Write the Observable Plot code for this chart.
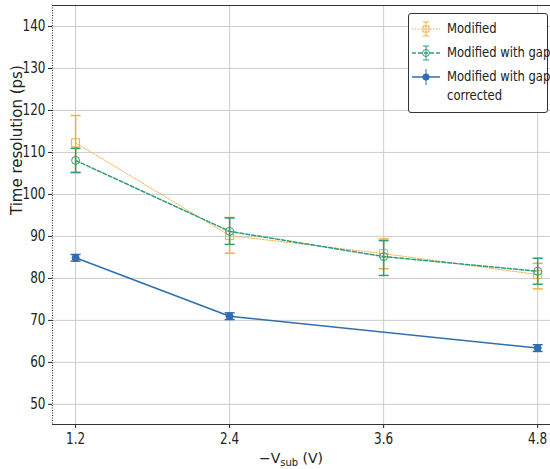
<!DOCTYPE html>
<html><head><meta charset="utf-8">
<script src="https://cdn.jsdelivr.net/npm/d3@7"></script>
<script src="https://cdn.jsdelivr.net/npm/@observablehq/plot@0.6"></script>
<style>
body{margin:0;background:#fff;font-family:"DejaVu Sans",sans-serif;}
#wrap{position:relative;width:550px;height:469px;}
#legend{position:absolute;left:408px;top:13px;width:140px;height:100px;border:1px solid #333;border-radius:3px;background:#fff;font-size:14.5px;color:#222;box-sizing:border-box;white-space:nowrap;}
.row{position:absolute;left:2px;display:flex;align-items:center;}
.row span{margin-left:6px;line-height:19px;display:inline-block;transform:scaleX(0.8);transform-origin:left center;}
</style></head><body>
<div id="wrap"><div id="chart"></div>
<div id="legend">
 <div class="row" style="top:5px"><svg width="30" height="18"><line x1="1" y1="9" x2="29" y2="9" stroke="#F0B040" stroke-dasharray="1.5,1.5"/><line x1="15" y1="2" x2="15" y2="16" stroke="#F0B040"/><line x1="12" y1="2" x2="18" y2="2" stroke="#F0B040"/><line x1="12" y1="16" x2="18" y2="16" stroke="#F0B040"/><rect x="12" y="6" width="6" height="6" fill="none" stroke="#F0B040"/></svg><span>Modified</span></div>
 <div class="row" style="top:29px"><svg width="30" height="18"><line x1="1" y1="9" x2="29" y2="9" stroke="#2E9E7A" stroke-width="1.5" stroke-dasharray="4,2"/><line x1="15" y1="2" x2="15" y2="16" stroke="#2E9E7A"/><line x1="12" y1="2" x2="18" y2="2" stroke="#2E9E7A"/><line x1="12" y1="16" x2="18" y2="16" stroke="#2E9E7A"/><circle cx="15" cy="9" r="3.5" fill="none" stroke="#2E9E7A"/></svg><span>Modified with gap</span></div>
 <div class="row" style="top:53px"><svg width="30" height="18" style="margin-top:-18px"><line x1="1" y1="9" x2="29" y2="9" stroke="#2F6EB0" stroke-width="1.5"/><line x1="15" y1="1" x2="15" y2="17" stroke="#2F6EB0"/><circle cx="15" cy="9" r="3.5" fill="#2F6EB0"/></svg><span>Modified with gap<br>corrected</span></div>
</div>
</div>
<script>
const voltages = [1.2, 2.4, 3.6, 4.8];
const modified = [112.3, 90.2, 85.9, 80.9];
const modifiedLo = [105.3, 86.0, 82.3, 77.5];
const modifiedHi = [118.8, 94.5, 89.4, 83.6];
const gap = [108.1, 91.2, 85.2, 81.7];
const gapLo = [105.2, 88.1, 80.7, 78.6];
const gapHi = [111.0, 94.4, 89.0, 84.8];
const correctedV = [1.2, 2.4, 4.8];
const corrected = [84.9, 71.0, 63.4];
const correctedLo = [84.1, 70.2, 62.6];
const correctedHi = [85.7, 71.8, 64.2];
const yTicks = [50, 60, 70, 80, 90, 100, 110, 120, 130, 140];
const xTicks = [1.2, 2.4, 3.6, 4.8];

const cOr = "#F0B040", cGr = "#2E9E7A", cBl = "#2F6EB0";
const mk = (xs, ys, lo, hi) => xs.map((x, i) => ({x, y: ys[i], lo: lo[i], hi: hi[i]}));
const dMod = mk(voltages, modified, modifiedLo, modifiedHi);
const dGap = mk(voltages, gap, gapLo, gapHi);
const dCor = mk(correctedV, corrected, correctedLo, correctedHi);

const cap = {draw(ctx, size){ const r = Math.sqrt(size / Math.PI); ctx.moveTo(-r, 0); ctx.lineTo(r, 0); }};
const square = {draw(ctx, size){ const r = Math.sqrt(size / Math.PI); ctx.rect(-r, -r, 2*r, 2*r); }};

function series(d, color, opts){
  return [
    Plot.line(d, {x: "x", y: "y", stroke: color, strokeWidth: opts.sw, strokeDasharray: opts.dash}),
    Plot.ruleX(d, {x: "x", y1: "lo", y2: "hi", stroke: color, strokeWidth: 1.5}),
    Plot.dot(d, {x: "x", y: "lo", symbol: cap, r: 5, stroke: color, strokeWidth: 1.5}),
    Plot.dot(d, {x: "x", y: "hi", symbol: cap, r: 5, stroke: color, strokeWidth: 1.5}),
    Plot.dot(d, {x: "x", y: "y", symbol: opts.symbol, r: opts.r, stroke: color, fill: opts.fill, strokeWidth: 1})
  ];
}

const ff = "'DejaVu Sans',sans-serif";
const chart = Plot.plot({
  width: 550, height: 469,
  marginLeft: 52, marginTop: 5, marginBottom: 45, marginRight: 0,
  style: {fontFamily: ff, fontSize: "14px", color: "#222", background: "#fff"},
  x: {domain: [1.02, 4.9], label: null},
  y: {domain: [45.2, 145], label: null},
  marks: [
    Plot.gridX(xTicks, {stroke: "#ccc", strokeOpacity: 1}),
    Plot.gridY(yTicks, {stroke: "#ccc", strokeOpacity: 1}),
    Plot.axisX({ticks: xTicks, tickFormat: d => d.toFixed(1), tickSize: 4, fontSize: 15, label: null, tickPadding: 5, className: "cond"}),
    Plot.axisY({ticks: yTicks, tickSize: 4, fontSize: 15, label: null, tickPadding: 3, className: "cond"}),
    Plot.ruleY([45.2], {stroke: "#333", strokeWidth: 1.2}),
    Plot.ruleY([145], {stroke: "#333", strokeWidth: 1.2}),
    Plot.ruleX([1.02], {stroke: "#333", strokeWidth: 1.2, strokeDasharray: "1,1.5"}),
    ...series(dMod, cOr, {sw: 1, dash: "1.5,1.5", symbol: square, r: 4, fill: "none"}),
    ...series(dGap, cGr, {sw: 1.5, dash: "4,2", symbol: "circle", r: 4, fill: "none"}),
    ...series(dCor, cBl, {sw: 1.5, dash: null, symbol: "circle", r: 3.5, fill: cBl}),
    Plot.text(["Time resolution (ps)"], {frameAnchor: "left", dx: -35, rotate: -90, fontSize: 15, fill: "#222", text: d => d, style: "letter-spacing:1.5px"}),
  ]
});
document.getElementById("chart").appendChild(chart);
const svg = d3.select(chart);
// condense tick labels horizontally
svg.selectAll(".cond text").each(function(){
  const w = this.getComputedTextLength();
  this.setAttribute("textLength", (w * 0.8).toFixed(1));
  this.setAttribute("lengthAdjust", "spacingAndGlyphs");
});
const t = svg.append("text").attr("x", 291).attr("y", 463).attr("text-anchor", "middle")
  .attr("font-size", 14).attr("fill", "#222").attr("font-family", ff);
t.append("tspan").text("\u2212V");
t.append("tspan").attr("font-size", 10).attr("dy", 3).text("sub");
t.append("tspan").attr("dy", -3).text(" (V)");
</script>
</body></html>
